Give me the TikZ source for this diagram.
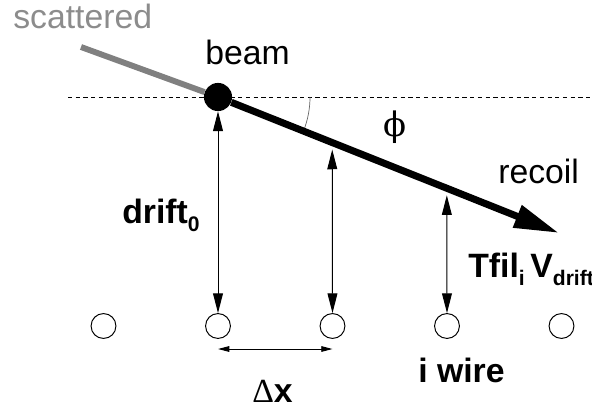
\documentclass[tikz,border=0pt]{standalone}
\usepackage{fontspec}
\setmainfont{Liberation Sans}
\newfontfamily\deltafont{Liberation Serif}
\newfontfamily\greekfont{DejaVu Serif}
\usetikzlibrary{arrows.meta, calc}

\newcommand{\lowsub}[1]{\raisebox{-6pt}{\fontsize{15}{15}\selectfont #1}}

\begin{document}
\begin{tikzpicture}[
    x=0.025cm, y=0.025cm,
    font=\fontsize{24}{28}\selectfont,
    txt/.style={inner sep=0pt, anchor=base west},
    bold/.style={txt, font=\fontsize{24}{28}\selectfont\bfseries},
    wire/.style={circle, draw=black, line width=0.7pt, minimum size=17.7pt, inner sep=0pt},
    dot/.style={circle, fill=black, inner sep=0pt, minimum size=20pt},
    vline/.style={line width=0.7pt, {Triangle[length=14pt,width=7pt]}-{Triangle[length=14pt,width=7pt]}},
    dxline/.style={line width=0.7pt, {Triangle[length=8pt,width=4pt]}-{Triangle[length=8pt,width=4pt]}},
    track/.style={line width=5pt, -{Triangle[length=32pt,width=16pt]}},
    scat/.style={line width=4.2pt, black!50},
    horizon/.style={line width=0.5pt, dash pattern=on 3pt off 2.5pt},
    anglearc/.style={line width=0.5pt, black!60}
]
\useasboundingbox (0,0) rectangle (592,410);
\clip (0,0) rectangle (592,410);

% Nodes
\node[dot] (beam) at (218,313) {};
\foreach \i in {1,...,5}
  \node[wire] (w\i) at ({103.5+114.5*(\i-1)},84) {};
\coordinate (scatstart) at (81,363);
\coordinate (tip) at (559,177);
\coordinate (hleft) at (68,313);
\coordinate (hright) at (592,313);
\coordinate (hit2) at ($(beam)!0.335!(tip)+(0,-7)$);
\coordinate (hit3) at ($(beam)!0.671!(tip)+(0,-7)$);
\coordinate (dxl) at ($(w2)+(0,-23)$);
\coordinate (dxr) at ($(w3)+(0,-23)$);

% Labels
\node[txt, text=black!45] (scatlbl) at (13,382) {scattered};
\node[txt] (beamlbl) at (205,346) {beam};
\node[txt] (recoillbl) at (498,227) {recoil};
\node[inner sep=0pt, font=\fontsize{24}{28}\selectfont\greekfont] (philbl) at (395,283) {ϕ};
\node[bold] (driftlbl) at (122,187) {drift\lowsub{0}};
\node[bold] (tfillbl) at (468,133) {Tfil\lowsub{i}\,V\lowsub{drift}};
\node[bold] (iwirelbl) at (418,28) {i wire};
\node[bold] (dxlbl) at (252,8) {{\deltafont\mdseries Δ}x};

% Connections
\draw[scat] (scatstart) -- (beam);
\draw[horizon] (hleft) -- (hright);
\draw[anglearc] ($(beam)+(92,0)$) arc[start angle=0, end angle=-21.75, radius=2.3cm];
\draw[track] (beam) -- (tip);
\draw[vline] (w2.north) -- (beam.south);
\draw[vline] (w3.north) -- (hit2);
\draw[vline] (w4.north) -- (hit3);
\draw[dxline] (dxl) -- (dxr);
\end{tikzpicture}
\end{document}
